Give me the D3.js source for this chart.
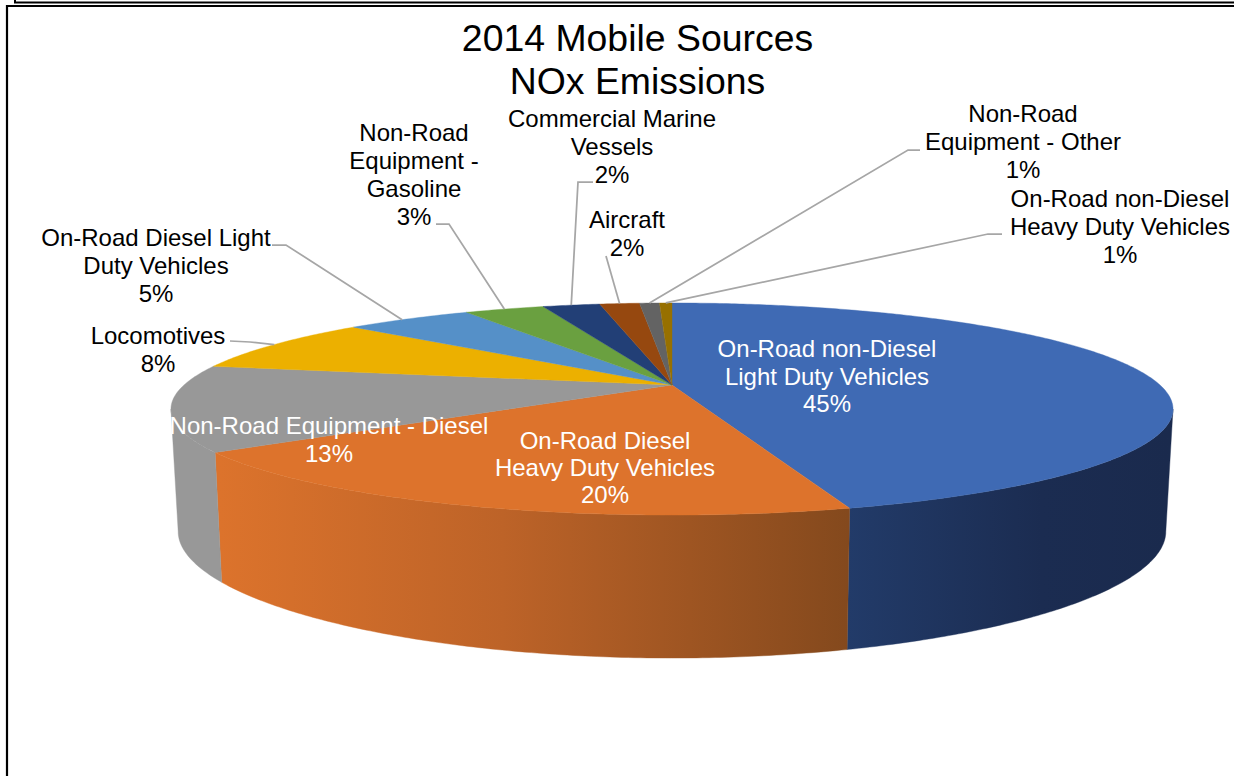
<!DOCTYPE html>
<html>
<head>
<meta charset="utf-8">
<script src="https://cdnjs.cloudflare.com/ajax/libs/d3/7.8.5/d3.min.js"></script>
<style>
  html, body { margin: 0; padding: 0; background: #fff; }
  svg { display: block; }
  text { font-family: "Liberation Sans", Arial, sans-serif; }
</style>
</head>
<body>
<svg id="chart" width="1234" height="776"></svg>
<script>
// Share of 2014 mobile-source NOx emissions, percent, clockwise from twelve o'clock.
const categories = [
  "On-Road non-Diesel Light Duty Vehicles",
  "On-Road Diesel Heavy Duty Vehicles",
  "Non-Road Equipment - Diesel",
  "Locomotives",
  "On-Road Diesel Light Duty Vehicles",
  "Non-Road Equipment - Gasoline",
  "Commercial Marine Vessels",
  "Aircraft",
  "Non-Road Equipment - Other",
  "On-Road non-Diesel Heavy Duty Vehicles"
];
const shares = [45.4, 19.7, 13.0, 8.4, 5.1, 3.2, 2.3, 1.6, 0.8, 0.5];
const titleLines = ["2014 Mobile Sources", "NOx Emissions"];
const nameLines = [
  ["On-Road non-Diesel", "Light Duty Vehicles"],
  ["On-Road Diesel", "Heavy Duty Vehicles"],
  ["Non-Road Equipment - Diesel"],
  ["Locomotives"],
  ["On-Road Diesel Light", "Duty Vehicles"],
  ["Non-Road", "Equipment -", "Gasoline"],
  ["Commercial Marine", "Vessels"],
  ["Aircraft"],
  ["Non-Road", "Equipment - Other"],
  ["On-Road non-Diesel", "Heavy Duty Vehicles"]
];
const sliceColors = ["#3f6ab4", "#dd732c", "#989898", "#ecb000", "#5590c8",
                     "#6aa040", "#223f76", "#96480f", "#636363", "#977000"];

// Label anchor (centre x, first baseline) and text colour per slice.
const labelPlacement = [
  { x: 827, y: 357, step: 27.6, fill: "#fff" },
  { x: 605, y: 448.5, step: 27.4, fill: "#fff" },
  { x: 329, y: 434, step: 28, fill: "#fff" },
  { x: 158, y: 344, step: 28, fill: "#000" },
  { x: 156, y: 246, step: 28, fill: "#000" },
  { x: 414, y: 141, step: 27.9, fill: "#000" },
  { x: 612, y: 127, step: 28, fill: "#000" },
  { x: 627, y: 228, step: 28.4, fill: "#000" },
  { x: 1023, y: 122, step: 28, fill: "#000" },
  { x: 1120, y: 206.5, step: 28, fill: "#000" }
];
// Leader line start and elbow; the far end is found on the pie rim.
const leaderRoutes = [
  null, null, null,
  [[230, 341], [250, 342]],
  [[272, 245], [286, 245]],
  [[436, 224], [449, 224]],
  [[593, 182], [578, 182]],
  [[606, 256]],
  [[920, 150], [908, 150]],
  [[1002, 234], [988, 234]]
];
const rimAngleShift = [0, 0, 0, 0, -1, 0, 0, 0, 0, 0];

const svg = d3.select("#chart");

// Perspective view of the pie's two discs: the far edge recedes by the p factors.
const topDisc = { cx: 672, cy: 385, a: 488, b: 100.6, px: 0.2264, py: 0.2264 };
const baseDisc = { cx: 672, cy: 504, a: 481, b: 114, px: 0.2264, py: 0.26 };

function project(disc, theta) {
  const u = Math.sin(theta), v = Math.cos(theta);
  return [disc.cx + disc.a * u / (1 + disc.px * v), disc.cy - disc.b * v / (1 + disc.py * v)];
}
function arcPoints(disc, a0, a1) {
  const n = Math.max(2, Math.ceil(Math.abs(a1 - a0) / 0.01));
  return d3.range(n + 1).map(i => project(disc, a0 + (a1 - a0) * i / n));
}

const pieAngles = d3.pie().sort(null).value(d => d)(shares);
const linePath = d3.line();

// Wall shading: light at the front-left, falling off toward the right.
const defs = svg.append("defs");
function wallGradient(id, x1, x2, stops) {
  const g = defs.append("linearGradient").attr("id", id)
    .attr("gradientUnits", "userSpaceOnUse")
    .attr("x1", x1).attr("x2", x2).attr("y1", 0).attr("y2", 0);
  stops.forEach(s => g.append("stop").attr("offset", s[0]).attr("stop-color", s[1]));
}
wallGradient("wall0", 848, 1170, [[0, "#223b69"], [0.6, "#1b2c51"], [1, "#1a2a4d"]]);
wallGradient("wall1", 220, 848, [[0, "#dc732c"], [0.45, "#bd6328"], [1, "#84491d"]]);

// The outer walls face the viewer only between the two widest points of the disc.
const wallStart = Math.PI - Math.acos(topDisc.px);
const wallEnd = Math.PI + Math.acos(topDisc.px);
const walls = svg.append("g");
pieAngles.forEach((d, i) => {
  const a0 = Math.max(d.startAngle, wallStart), a1 = Math.min(d.endAngle, wallEnd);
  if (a1 <= a0) return;
  const pts = arcPoints(topDisc, a0, a1).concat(arcPoints(baseDisc, a1, a0));
  walls.append("path")
    .attr("d", linePath(pts) + "Z")
    .attr("fill", i < 2 ? `url(#wall${i})` : sliceColors[i])
    .attr("stroke", i < 2 ? `url(#wall${i})` : sliceColors[i])
    .attr("stroke-width", 0.4);
});

// Top face wedges.
svg.append("g").selectAll("path").data(pieAngles).join("path")
  .attr("d", d => linePath([[topDisc.cx, topDisc.cy]]
    .concat(arcPoints(topDisc, d.startAngle, d.endAngle))) + "Z")
  .attr("fill", (d, i) => sliceColors[i])
  .attr("stroke", (d, i) => sliceColors[i])
  .attr("stroke-width", 0.4);

// Leader lines from the outside labels to the rim.
svg.append("g").selectAll("path")
  .data(pieAngles.map((d, i) => ({ d, i })).filter(o => leaderRoutes[o.i]))
  .join("path")
  .attr("d", o => {
    const mid = (o.d.startAngle + o.d.endAngle) / 2 + rimAngleShift[o.i] * Math.PI / 180;
    return linePath(leaderRoutes[o.i].concat([project(topDisc, mid)]));
  })
  .attr("fill", "none")
  .attr("stroke", "#a6a6a6")
  .attr("stroke-width", 1.75);

// Frame rules along the top and left edges.
const frame = svg.append("g").attr("fill", "none").attr("stroke", "#000");
frame.append("path").attr("d", "M15,0V2.5H1234").attr("stroke-width", 2);
frame.append("path").attr("d", "M7,776V6H1234").attr("stroke-width", 2.2);

// Title.
svg.append("text")
  .attr("text-anchor", "middle").attr("font-size", 37.4).attr("fill", "#000")
  .selectAll("tspan").data(titleLines).join("tspan")
  .attr("x", 637.5).attr("y", (d, i) => 51 + i * 43).text(d => d);

// Category names with the rounded share on the last line.
const labels = svg.append("g").attr("text-anchor", "middle").attr("font-size", 24);
categories.forEach((name, i) => {
  const place = labelPlacement[i];
  const lines = nameLines[i].concat(d3.format(".0f")(Math.round(shares[i])) + "%");
  labels.append("text").attr("fill", place.fill)
    .selectAll("tspan").data(lines).join("tspan")
    .attr("x", place.x).attr("y", (d, k) => place.y + k * place.step).text(d => d);
});
</script>
</body>
</html>
